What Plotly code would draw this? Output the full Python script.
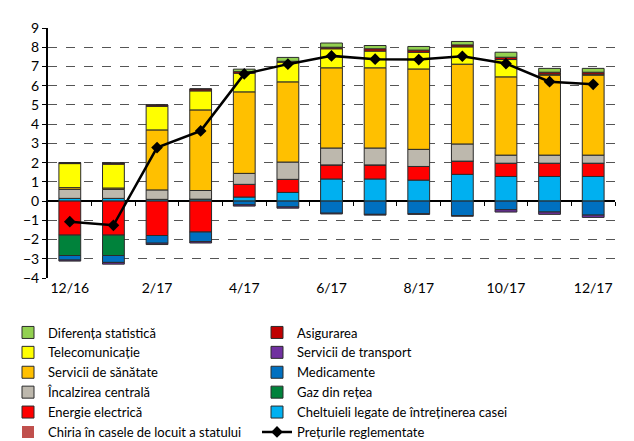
import plotly.graph_objects as go

months = ["12/16", "1/17", "2/17", "3/17", "4/17", "5/17", "6/17",
          "7/17", "8/17", "9/17", "10/17", "11/17", "12/17"]
tick_labels = ["12/16", "2/17", "4/17", "6/17", "8/17", "10/17", "12/17"]

cheltuieli = [0.14, 0.14, 0.09, 0.10, 0.21, 0.45, 1.15, 1.15, 1.09, 1.39, 1.28, 1.28, 1.28]
energie = [-1.77, -1.77, -1.79, -1.61, 0.66, 0.68, 0.73, 0.73, 0.71, 0.69, 0.69, 0.69, 0.69]
gaz = [-1.06, -1.06, 0, 0, 0, 0, 0, 0, 0, 0, 0, 0, 0]
medicamente = [-0.24, -0.36, -0.40, -0.50, -0.20, -0.31, -0.63, -0.69, -0.66, -0.75, -0.45, -0.57, -0.73]
transport = [-0.05, -0.09, -0.07, -0.07, -0.06, -0.06, -0.04, -0.04, -0.03, -0.04, -0.12, -0.12, -0.12]
incalzire = [0.47, 0.47, 0.49, 0.45, 0.57, 0.90, 0.88, 0.88, 0.89, 0.89, 0.42, 0.42, 0.42]
sanatate = [0.09, 0.07, 3.12, 4.19, 4.24, 4.17, 4.17, 4.17, 4.18, 4.15, 4.07, 4.16, 4.16]
telecom = [1.25, 1.24, 1.23, 0.99, 0.97, 1.02, 0.99, 0.87, 0.87, 0.90, 0.90, 0.05, 0.05]
asigurare = [0.05, 0.06, 0.07, 0.10, 0.08, 0.05, 0.08, 0.12, 0.11, 0.10, 0.12, 0.10, 0.10]
diferenta = [0, 0, 0, 0, 0.13, 0.20, 0.22, 0.17, 0.19, 0.18, 0.26, 0.20, 0.20]
chiria = [0, 0, 0, 0, 0, 0, 0, 0, 0, 0, 0, 0, 0]
preturi = [-1.07, -1.26, 2.78, 3.65, 6.61, 7.12, 7.55, 7.38, 7.36, 7.53, 7.15, 6.21, 6.07]

x = list(range(len(months)))
FONT = "Lato"
edge = "#2b2b2b"

# (name, values, colour, legend column, rank within column)
bars = [
    ("Cheltuieli legate de întreținerea casei", cheltuieli, "#00B0F0", "legend2", 5),
    ("Energie electrică", energie, "#FF0000", "legend", 5),
    ("Gaz din rețea", gaz, "#00823B", "legend2", 4),
    ("Medicamente", medicamente, "#0070C0", "legend2", 3),
    ("Servicii de transport", transport, "#7030A0", "legend2", 2),
    ("Încalzirea centrală", incalzire, "#BDB8AD", "legend", 4),
    ("Servicii de sănătate", sanatate, "#FFC000", "legend", 3),
    ("Telecomunicație", telecom, "#FFFF00", "legend", 2),
    ("Asigurarea", asigurare, "#C00000", "legend2", 1),
    ("Diferența statistică", diferenta, "#92D050", "legend", 1),
    ("Chiria în casele de locuit a statului", chiria, "#C0504D", "legend", 6),
]

fig = go.Figure()
for name, vals, color, leg, rank in bars:
    lw = 0 if name.startswith("Chiria") else 1
    fig.add_trace(go.Bar(
        x=x, y=vals, name=name, legend=leg, legendrank=rank,
        marker=dict(color=color, line=dict(color=edge, width=lw)),
        hoverinfo="skip",
    ))

fig.add_trace(go.Scatter(
    x=x, y=preturi, name="Prețurile reglementate", legend="legend2", legendrank=6,
    mode="lines+markers",
    line=dict(color="black", width=2.5),
    marker=dict(symbol="diamond", size=9, color="black"),
))

# invisible helper trace for boundary ticks on the zero line
fig.add_trace(go.Scatter(x=[-0.5, 12.5], y=[0, 0], xaxis="x2", mode="lines",
                         line=dict(width=0), showlegend=False, hoverinfo="skip"))

zero_pos = (0 - (-4)) / 13.0
L, R, T, B = 40, 27, 20, 171
plot_w = 634 - L - R
plot_h = 441 - T - B
leg_y = -(441 - T - plot_h) / plot_h + 1.5 / plot_h

legend_common = dict(
    orientation="v", yanchor="bottom", xanchor="left", y=leg_y,
    font=dict(family=FONT, size=13), traceorder="normal",
    itemclick=False, bgcolor="rgba(0,0,0,0)",
)

fig.update_layout(
    width=634, height=441,
    margin=dict(l=L, r=R, t=T, b=B, autoexpand=False),
    paper_bgcolor="white", plot_bgcolor="white",
    barmode="relative", bargap=0.5,
    font=dict(family=FONT, size=14, color="black"),
    xaxis=dict(
        range=[-0.5, 12.5], tickmode="array",
        tickvals=[0, 2, 4, 6, 8, 10, 12], ticktext=tick_labels,
        showgrid=False, zeroline=False, showline=False, ticks="",
        tickfont=dict(family=FONT, size=14), automargin=False,
    ),
    xaxis2=dict(
        overlaying="x", anchor="free", position=zero_pos, side="bottom",
        range=[-0.5, 12.5], tickmode="array",
        tickvals=[i + 0.5 for i in range(13)],
        ticks="outside", ticklen=4, tickcolor="black", tickwidth=1,
        showticklabels=False, showgrid=False, zeroline=False, showline=False,
        automargin=False,
    ),
    yaxis=dict(
        range=[-4, 9], dtick=1, tick0=0,
        showgrid=True, gridcolor="#555555", griddash="dash", gridwidth=1,
        zeroline=True, zerolinecolor="black", zerolinewidth=2,
        showline=True, linecolor="black", linewidth=2,
        ticks="outside", ticklen=4, tickcolor="black",
        tickfont=dict(family=FONT, size=14), automargin=False,
    ),
    legend=dict(x=-L / plot_w, **legend_common),
    legend2=dict(x=(249 - L) / plot_w, **legend_common),
    showlegend=True,
)

fig.write_html("out.html")
